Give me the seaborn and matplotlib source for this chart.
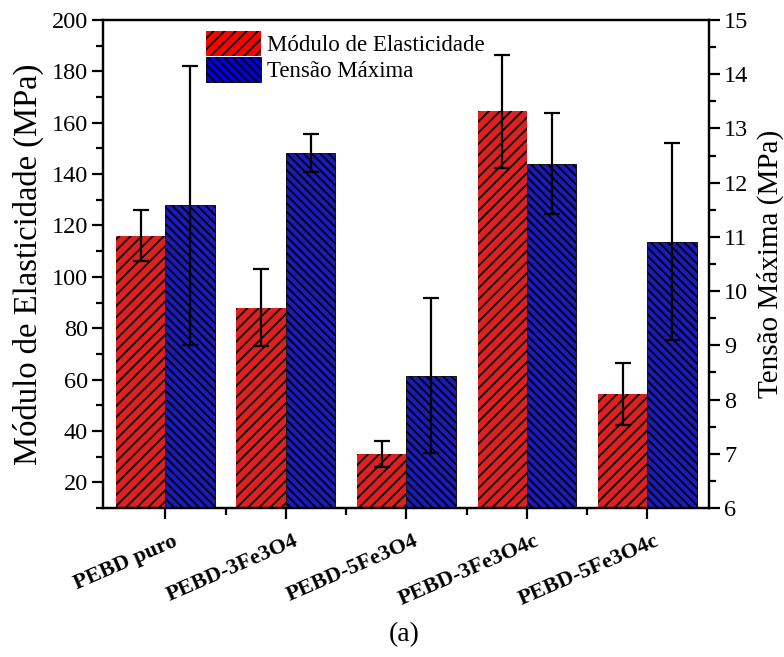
import numpy as np
import pandas as pd
import seaborn as sns
import matplotlib
matplotlib.use("Agg")
import matplotlib.pyplot as plt
from matplotlib.ticker import MultipleLocator
import matplotlib.transforms as mtransforms
from matplotlib.patches import Patch

categories = ["PEBD puro", "PEBD-3Fe3O4", "PEBD-5Fe3O4", "PEBD-3Fe3O4c", "PEBD-5Fe3O4c"]
modulo = [116, 88, 31, 164.5, 54.5]
modulo_err = [10, 15, 5, 22, 12]
tensao = [11.58, 12.54, 8.44, 12.35, 10.91]
tensao_err = [2.57, 0.35, 1.43, 0.93, 1.82]
series = ["Módulo de Elasticidade", "Tensão Máxima"]

sns.set_theme(style="ticks")
plt.rcParams["font.family"] = ["Liberation Serif", "DejaVu Serif"]
plt.rcParams["hatch.linewidth"] = 1.3
for k in ["text.color", "axes.labelcolor", "xtick.color", "ytick.color", "axes.edgecolor"]:
    plt.rcParams[k] = "black"

fig = plt.figure(figsize=(7.84, 6.57), dpi=100)
fig.patch.set_facecolor("white")
ax = fig.add_axes([0.1314, 0.2268, 0.7729, 0.7428])
ax2 = ax.twinx()

n = len(categories)
df1 = pd.DataFrame({"cat": categories * 2,
                    "serie": [series[0]] * n + [series[1]] * n,
                    "val": modulo + [np.nan] * n})
df2 = pd.DataFrame({"cat": categories * 2,
                    "serie": [series[0]] * n + [series[1]] * n,
                    "val": [np.nan] * n + tensao})

red = "#FF0000"
blue = "#0000D8"
sns.barplot(data=df1, x="cat", y="val", hue="serie", hue_order=series, order=categories,
            palette=[red, blue], width=0.82, errorbar=None, ax=ax, legend=False,
            edgecolor="black", linewidth=0)
sns.barplot(data=df2, x="cat", y="val", hue="serie", hue_order=series, order=categories,
            palette=[red, blue], width=0.82, errorbar=None, ax=ax2, legend=False,
            edgecolor="black", linewidth=0.6)

for p in ax.patches:
    p.set_hatch("///")
for p in ax2.patches:
    p.set_hatch("\\\\\\\\")

off = 0.82 / 4
xpos = np.arange(n)
ax.errorbar(xpos - off, modulo, yerr=modulo_err, fmt="none", ecolor="black",
            elinewidth=1.6, capsize=6, capthick=1.6, zorder=5)
ax2.errorbar(xpos + off, tensao, yerr=tensao_err, fmt="none", ecolor="black",
             elinewidth=1.6, capsize=6, capthick=1.6, zorder=5)

ax.set_xlim(-0.517, 4.51)
ax.set_ylim(10, 200)
ax2.set_ylim(6, 15)
ax.yaxis.set_minor_locator(MultipleLocator(10))
ax2.yaxis.set_major_locator(MultipleLocator(1))
ax2.yaxis.set_minor_locator(MultipleLocator(0.5))
ax.set_yticks(np.arange(20, 201, 20))
ax.set_xticks(xpos)
ax.set_xticks(xpos[:-1] + 0.5, minor=True)

for a in (ax, ax2):
    for s in a.spines.values():
        s.set_linewidth(1.6)
        s.set_color("black")
    a.tick_params(which="major", direction="out", length=8, width=1.6, colors="black",
                  labelsize=17.5, pad=3)
    a.tick_params(which="minor", direction="out", length=5, width=1.6, colors="black")

ax.set_xlabel("")
ax2.set_xlabel("")
ax.set_ylabel("Módulo de Elasticidade (MPa)", fontsize=23.5, labelpad=5)
ax2.set_ylabel("Tensão Máxima (MPa)", fontsize=21, labelpad=6)

ax.set_xticklabels(categories, rotation=23.5, ha="right", rotation_mode="anchor",
                   fontsize=16, fontweight="bold")
shift = mtransforms.ScaledTranslation(7 / 100, -8 / 100, fig.dpi_scale_trans)
for lbl in ax.get_xticklabels():
    lbl.set_transform(lbl.get_transform() + shift)

handles = [Patch(facecolor=red, edgecolor="black", linewidth=0, hatch="///"),
           Patch(facecolor=blue, edgecolor="black", linewidth=0.6, hatch="\\\\\\\\")]
ax.legend(handles, series, loc="upper left", bbox_to_anchor=(0.147, 1.005),
          frameon=False, fontsize=16.5, handlelength=2.4, handleheight=1.3,
          handletextpad=0.25, labelspacing=0.02, borderaxespad=0.2)

fig.text(0.516, 0.015, "(a)", ha="center", va="bottom", fontsize=20)

fig.savefig("out.png", dpi=100, facecolor="white")
